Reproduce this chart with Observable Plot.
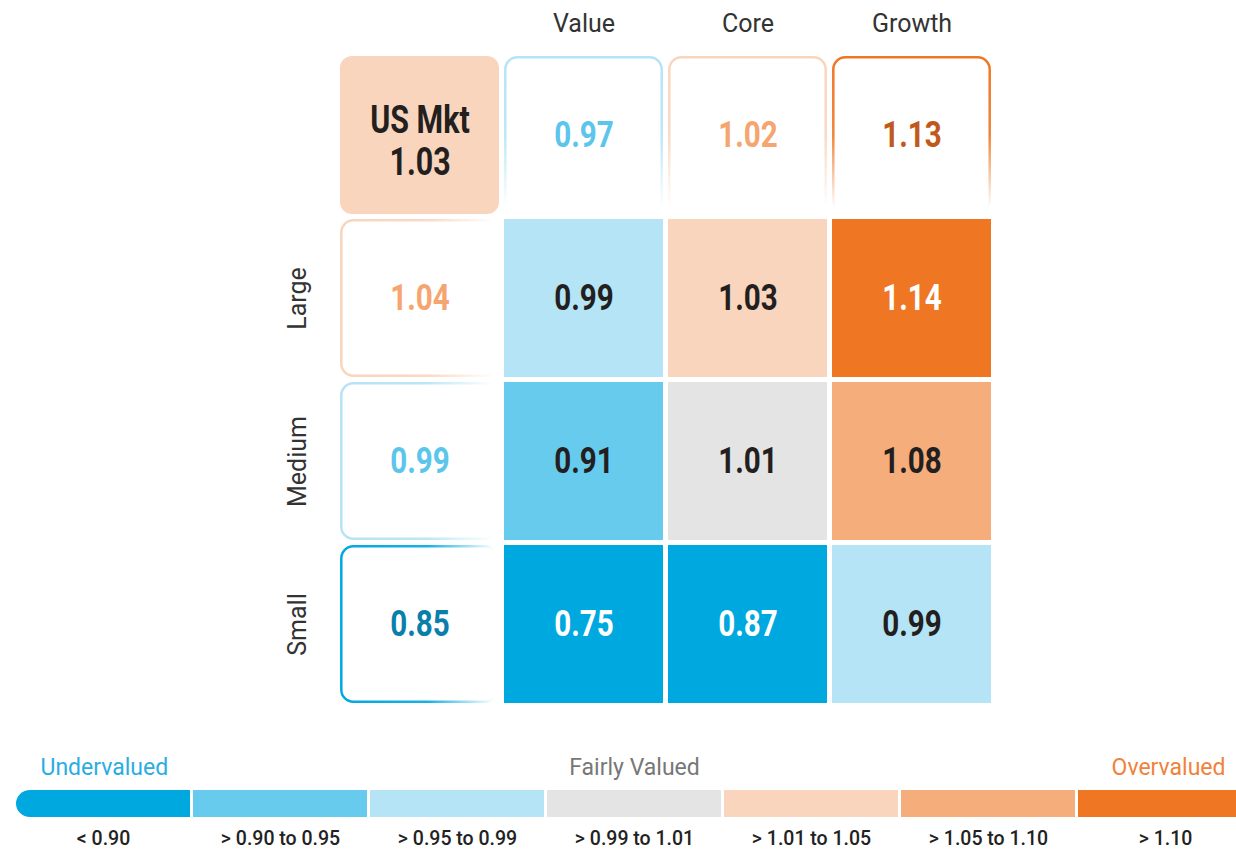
<!DOCTYPE html>
<html><head><meta charset="utf-8">
<script src="https://cdn.jsdelivr.net/npm/d3@7"></script>
<script src="https://cdn.jsdelivr.net/npm/@observablehq/plot@0.6"></script>
<style>
body{margin:0;background:#fff;}
#chart svg{display:block;}
</style></head><body><div id="chart"></div>
<script>
const styles = ["Value", "Core", "Growth"];
const sizes = ["Large", "Medium", "Small"];
const marketLabel = "US Mkt";
const marketValue = 1.03;
const styleTotals = [0.97, 1.02, 1.13];
const sizeTotals = [1.04, 0.99, 0.85];
const largeValues = [0.99, 1.03, 1.14];
const mediumValues = [0.91, 1.01, 1.08];
const smallValues = [0.75, 0.87, 0.99];
const bandLabels = ["< 0.90", "> 0.90 to 0.95", "> 0.95 to 0.99", "> 0.99 to 1.01", "> 1.01 to 1.05", "> 1.05 to 1.10", "> 1.10"];
const bandUpper = [0.90, 0.95, 0.99, 1.01, 1.05, 1.10];
const bandFills = ["#00a8e0", "#66cbed", "#b4e4f5", "#e4e4e4", "#f9d5bd", "#f5ad7b", "#ef7623"];
const bandInk = ["#0a7fab", "#2fb2e4", "#5cc5eb", "#8a8a8a", "#f4a570", "#e07a35", "#c05a1c"];
const legendTitles = ["Undervalued", "Fairly Valued", "Overvalued"];
const titleColors = ["#2aade3", "#777777", "#f0823a"];

const FONT = "Roboto, 'Liberation Sans', sans-serif";
const cat = v => { const i = bandUpper.findIndex(u => v <= u); return i < 0 ? bandUpper.length : i; };
const isDark = v => { const c = cat(v); return c === 0 || c === bandFills.length - 1; };

const gridRows = [largeValues, mediumValues, smallValues];
const cells = sizes.flatMap((s, i) => styles.map((st, j) => ({row: s, col: st, value: gridRows[i][j]})));
const headers = styles.map((st, j) => ({row: marketLabel, col: st, value: styleTotals[j]}));
const rowHeads = sizes.map((s, i) => ({row: s, col: marketLabel, value: sizeTotals[i]}));

const defs = () => {
  const d = d3.create("svg:defs");
  bandFills.forEach((c, i) => {
    const gv = d.append("linearGradient").attr("id", "fadeV" + i).attr("x1", 0).attr("y1", 0).attr("x2", 0).attr("y2", 1);
    gv.append("stop").attr("offset", 0).attr("stop-color", c).attr("stop-opacity", 1);
    gv.append("stop").attr("offset", 0.5).attr("stop-color", c).attr("stop-opacity", 0.9);
    gv.append("stop").attr("offset", 0.97).attr("stop-color", c).attr("stop-opacity", 0);
    const gh = d.append("linearGradient").attr("id", "fadeH" + i).attr("x1", 0).attr("y1", 0).attr("x2", 1).attr("y2", 0);
    gh.append("stop").attr("offset", 0).attr("stop-color", c).attr("stop-opacity", 1);
    gh.append("stop").attr("offset", 0.55).attr("stop-color", c).attr("stop-opacity", 0.9);
    gh.append("stop").attr("offset", 0.98).attr("stop-color", c).attr("stop-opacity", 0);
  });
  return d.node();
};

const NUM = {fontSize: 37, fontWeight: "bold"};

const outlined = (items, dir) => items.flatMap(d => {
  const c = cat(d.value);
  return [
    Plot.cell([d], {x: "col", y: "row", fill: "white", stroke: `url(#fade${dir}${c})`, strokeWidth: 2.5, inset: 1.3, rx: 12}),
    Plot.text([d], {x: "col", y: "row", text: e => e.value.toFixed(2), fill: bandInk[c], ...NUM})
  ];
});

const main = Plot.plot({
  width: 1236, height: 725,
  marginTop: 55, marginBottom: 22, marginLeft: 340, marginRight: 245,
  style: {fontFamily: FONT, background: "white"},
  x: {domain: [marketLabel, ...styles], paddingInner: 0.032, paddingOuter: 0},
  y: {domain: [marketLabel, ...sizes], paddingInner: 0.032, paddingOuter: 0, axis: null},
  color: {type: "ordinal", domain: bandLabels, range: bandFills},
  marks: [
    defs,
    Plot.cell(cells, {x: "col", y: "row", fill: d => bandLabels[cat(d.value)], inset: 0}),
    Plot.text(cells, {filter: d => !isDark(d.value), x: "col", y: "row", text: d => d.value.toFixed(2), fill: "#231f20", ...NUM}),
    Plot.text(cells, {filter: d => isDark(d.value), x: "col", y: "row", text: d => d.value.toFixed(2), fill: "#ffffff", ...NUM}),
    Plot.cell([{row: marketLabel, col: marketLabel, value: marketValue}], {x: "col", y: "row", fill: d => bandLabels[cat(d.value)], rx: 12}),
    Plot.text([{row: marketLabel, col: marketLabel, value: marketValue}], {x: "col", y: "row", text: d => `${marketLabel}\n${d.value.toFixed(2)}`, fill: "#231f20", fontSize: 38, fontWeight: "bold", lineHeight: 1.12, dy: 5}),
    ...outlined(headers, "V"),
    ...outlined(rowHeads, "H"),
    Plot.axisX(styles, {anchor: "top", tickSize: 0, tickPadding: 24, fontSize: 25, color: "#333", label: null}),
    Plot.text(sizes, {y: d => d, frameAnchor: "left", textAnchor: "middle", dx: -43, rotate: -90, text: d => d, fontSize: 25, fill: "#333"})
  ]
});

const legend = Plot.plot({
  width: 1236, height: 128,
  marginTop: 65, marginBottom: 36, marginLeft: 0, marginRight: 0,
  style: {fontFamily: FONT, background: "white"},
  x: {domain: bandLabels, range: [15, 1253], paddingInner: 0.017, paddingOuter: 0},
  color: {type: "ordinal", domain: bandLabels, range: bandFills},
  marks: [
    Plot.cell(bandLabels.slice(1), {x: d => d, fill: d => d}),
    Plot.cell(bandLabels.slice(0, 1), {x: d => d, fill: d => d, rx: 14}),
    Plot.cell(bandLabels.slice(0, 1), {x: d => d, fill: d => d, insetLeft: 40}),
    Plot.axisX({anchor: "bottom", tickSize: 0, tickPadding: 14, fontSize: 19.5, fontWeight: 500, color: "#222", label: null}),
    Plot.text([legendTitles[0]], {frameAnchor: "top-left", dx: 40, dy: -32, text: d => d, textAnchor: "start", fill: titleColors[0], fontSize: 23}),
    Plot.text([legendTitles[1]], {x: () => bandLabels[3], frameAnchor: "top", dy: -32, text: d => d, fill: titleColors[1], fontSize: 23}),
    Plot.text([legendTitles[2]], {frameAnchor: "top-right", dx: -11, dy: -32, text: d => d, textAnchor: "end", fill: titleColors[2], fontSize: 23})
  ]
});

document.getElementById("chart").append(main, legend);

// narrow the bold figures to echo the condensed typeface of the original
d3.select(main).selectAll("g[font-weight=bold] text").each(function() {
  const b = this.getBBox();
  const cx = b.x + b.width / 2;
  const t = this.getAttribute("transform") || "";
  this.setAttribute("transform", `${t} translate(${cx},0) scale(0.8,1) translate(${-cx},0)`);
});
</script></body></html>
